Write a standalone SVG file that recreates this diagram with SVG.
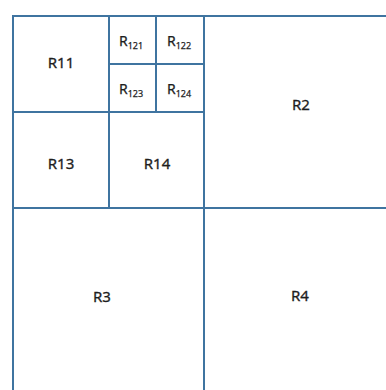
<svg xmlns="http://www.w3.org/2000/svg" width="386" height="390" viewBox="0 0 386 390">
  <style>
    .cell { fill: #ffffff; stroke: #3f74a0; stroke-width: 2; }
    .lbl { font-family: "Noto Sans", "Open Sans", sans-serif; font-size: 15px; fill: #1e1e1e; stroke: #1e1e1e; stroke-width: 0.3; text-anchor: middle; }
    .slbl { font-family: "Noto Sans", "Open Sans", sans-serif; font-size: 14px; fill: #1e1e1e; stroke: #1e1e1e; stroke-width: 0.25; text-anchor: middle; }
    .sub { font-size: 9px; }
  </style>
  <rect x="0" y="0" width="386" height="390" fill="#ffffff"/>
  <g id="R3"><rect class="cell" x="13" y="208" width="191" height="200"/><text class="lbl" x="102" y="302">R3</text></g>
  <g id="R4"><rect class="cell" x="204" y="208" width="200" height="200"/><text class="lbl" x="300" y="301">R4</text></g>
  <g id="R2"><rect class="cell" x="204" y="16" width="200" height="192"/><text class="lbl" x="301" y="110">R2</text></g>
  <g id="R11"><rect class="cell" x="13" y="16" width="96" height="96"/><text class="lbl" x="61" y="68">R11</text></g>
  <g id="R13"><rect class="cell" x="13" y="112" width="96" height="96"/><text class="lbl" x="61" y="169">R13</text></g>
  <g id="R14"><rect class="cell" x="109" y="112" width="95" height="96"/><text class="lbl" x="157" y="169">R14</text></g>
  <g id="R121"><rect class="cell" x="109" y="16" width="47" height="48"/><text class="slbl" x="131" y="46">R<tspan class="sub" dy="3">121</tspan></text></g>
  <g id="R122"><rect class="cell" x="156" y="16" width="48" height="48"/><text class="slbl" x="179" y="46">R<tspan class="sub" dy="3">122</tspan></text></g>
  <g id="R123"><rect class="cell" x="109" y="64" width="47" height="48"/><text class="slbl" x="131" y="94">R<tspan class="sub" dy="3">123</tspan></text></g>
  <g id="R124"><rect class="cell" x="156" y="64" width="48" height="48"/><text class="slbl" x="179" y="94">R<tspan class="sub" dy="3">124</tspan></text></g>
  <g id="connectors"></g>
</svg>
